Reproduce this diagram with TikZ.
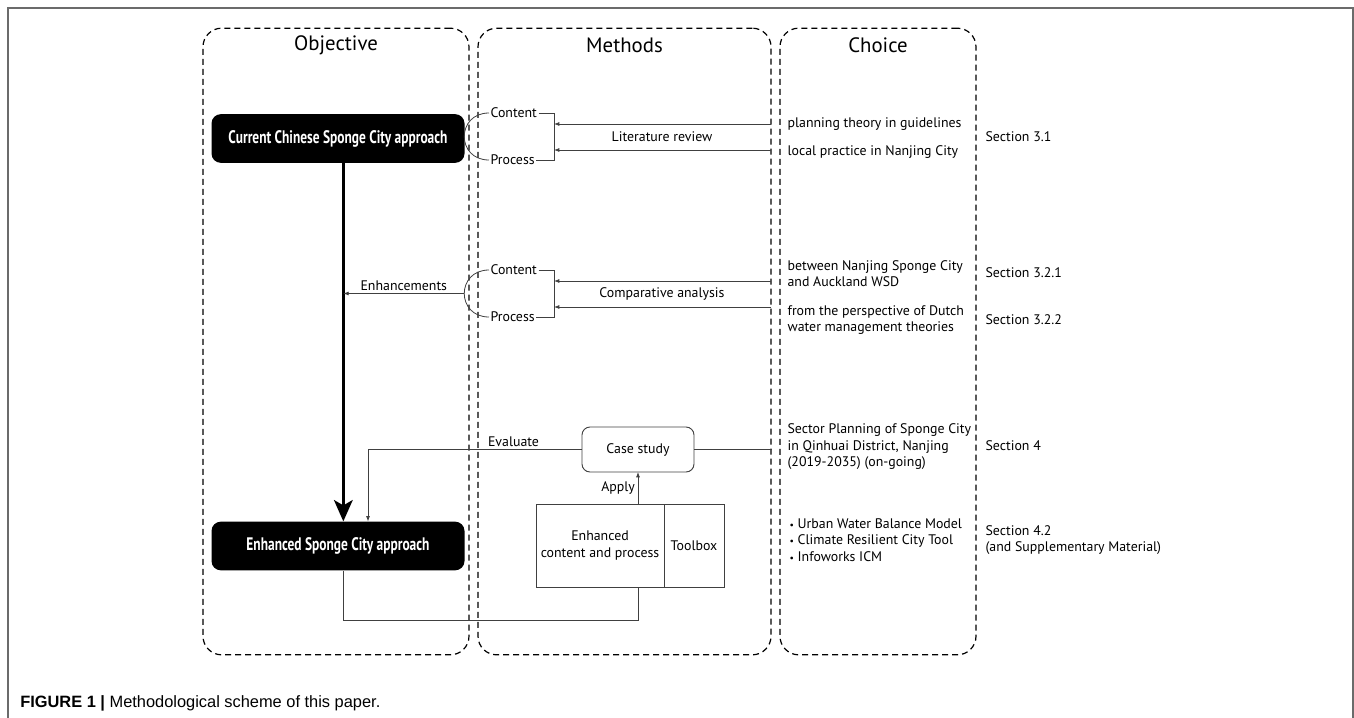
\documentclass[tikz,border=0pt]{standalone}
\usepackage{fontspec}
\setmainfont{PT Sans}
\newfontfamily\condfont{PT Sans}[FakeStretch=0.74]
\newfontfamily\capfont{Liberation Sans}
\usetikzlibrary{arrows.meta,positioning}

\begin{document}
\begin{tikzpicture}[x=0.75pt,y=-0.75pt,
  column/.style={draw, dash pattern=on 4.5pt off 3pt, line width=0.9pt, rounded corners=14pt, minimum height=470pt, inner sep=0pt},
  title/.style={font=\fontsize{15.6}{18}\selectfont},
  blackbox/.style={fill=black, rounded corners=7pt, text=white, font=\condfont\bfseries\fontsize{13.6}{15}\selectfont, minimum width=189.75pt, minimum height=36.5pt},
  txt/.style={font=\fontsize{10.4}{12.4}\selectfont, inner sep=1pt, align=left},
  link/.style={draw=black!75, line width=0.6pt},
  linkarrow/.style={link, -{Latex[length=4pt,width=3pt]}},
  plainbox/.style={draw=black!75, line width=0.7pt, outer sep=0pt, font=\fontsize{10.4}{12.4}\selectfont, align=center}]
\useasboundingbox (0,0) rectangle (1354,718);

% outer frame and caption
\draw[color=black!58, line width=1.1pt] (8,718) -- (8,8) -- (1353,8) -- (1353,718);
\node[anchor=west, font=\capfont\fontsize{12.3}{14}\selectfont, inner sep=0pt] (caption) at (20,703) {\textbf{FIGURE 1 |} Methodological scheme of this paper.};

% columns
\node[column, minimum width=199.5pt] (obj) at (336,341.5) {};
\node[column, minimum width=219.75pt] (meth) at (624.5,341.5) {};
\node[column, minimum width=147pt] (choice) at (878,341.5) {};
\node[title] (obj-t) at (336,45) {Objective};
\node[title] (meth-t) at (624.5,45) {Methods};
\node[title] (choice-t) at (878,45) {Choice};

% objective
\node[blackbox] (cur) at (338,138.5) {Current Chinese Sponge City approach};
\node[blackbox] (enh) at (338,546) {Enhanced Sponge City approach};
\coordinate (spine) at ([xshift=4pt]cur.south);
\draw[line width=2.2pt, -{Stealth[length=16pt,width=14pt,inset=4pt]}] (spine) -- (spine |- enh.north);

% literature review
\node[txt, anchor=west] (c1) at (489,113) {Content};
\node[txt, anchor=west] (p1) at (489,160) {Process};
\coordinate (b1) at (554,137);
\coordinate (t1) at (771,124);
\coordinate (t2) at (771,150);
\draw[link] (c1.west) to[out=180,in=180,looseness=1.8] (p1.west);
\draw[link] (c1.east) -- (c1.east -| b1) -- (p1.east -| b1) -- (p1.east);
\draw[linkarrow] (t1) -- (t1 -| b1);
\draw[linkarrow] (t2) -- (t2 -| b1);
\node[txt] (lit) at (662,137) {Literature review};

% comparative analysis
\node[txt, anchor=west] (c2) at (489,270) {Content};
\node[txt, anchor=west] (p2) at (489,317) {Process};
\coordinate (b2) at (554,294);
\coordinate (t3) at (771,281);
\coordinate (t4) at (771,307);
\draw[link] (c2.west) to[out=180,in=180,looseness=1.8] coordinate[pos=.5] (a2) (p2.west);
\draw[link] (c2.east) -- (c2.east -| b2) -- (p2.east -| b2) -- (p2.east);
\draw[linkarrow] (t3) -- (t3 -| b2);
\draw[linkarrow] (t4) -- (t4 -| b2);
\node[txt] (comp) at (662,294) {Comparative analysis};
\draw[linkarrow] (a2) -- node[txt, above=1pt] {Enhancements} (a2 -| spine);

% case study
\node[plainbox, rounded corners=6pt, minimum width=84pt, minimum height=33.75pt] (case) at (638,449.5) {Case study};
\node[plainbox, minimum width=96pt, minimum height=62.25pt] (encp) at (600,545.5) {Enhanced\\content and process};
\node[plainbox, minimum width=45pt, minimum height=62.25pt, right=0pt of encp] (tool) {Toolbox};
\coordinate (ev) at (368,450);
\draw[linkarrow] (case.west) -| node[txt, above=1pt, pos=.16] {Evaluate} (ev |- enh.north);
\draw[link] (case.east) -- (case.east -| meth.east);
\draw[linkarrow] (case.south |- encp.north) -- node[txt, left=1pt] {Apply} (case.south);
\draw[link] (spine |- enh.south) -- ++(0,50) -| (case.south |- encp.south);

% choice
\node[txt, anchor=west] (ch1) at (786,124) {planning theory in guidelines};
\node[txt, anchor=west] (ch2) at (786,152) {local practice in Nanjing City};
\node[txt, anchor=west] (ch3) at (786,273.5) {between Nanjing Sponge City\\and Auckland WSD};
\node[txt, anchor=west] (ch4) at (786,320) {from the perspective of Dutch\\water management theories};
\node[txt, anchor=west] (ch5) at (786,447) {Sector Planning of Sponge City\\in Qinhuai District, Nanjing\\(2019-2035) (on-going)};
\node[txt, anchor=west] (ch6) at (788,540) {\scalebox{0.7}{•} Urban Water Balance Model\\\scalebox{0.7}{•} Climate Resilient City Tool\\\scalebox{0.7}{•} Infoworks ICM};

% sections
\node[txt, anchor=west] (s1) at (984,137) {Section 3.1};
\node[txt, anchor=west] (s2) at (984,273) {Section 3.2.1};
\node[txt, anchor=west] (s3) at (984,320) {Section 3.2.2};
\node[txt, anchor=west] (s4) at (984,446) {Section 4};
\node[txt, anchor=west] (s5) at (984,540) {Section 4.2\\(and Supplementary Material)};
\end{tikzpicture}
\end{document}
